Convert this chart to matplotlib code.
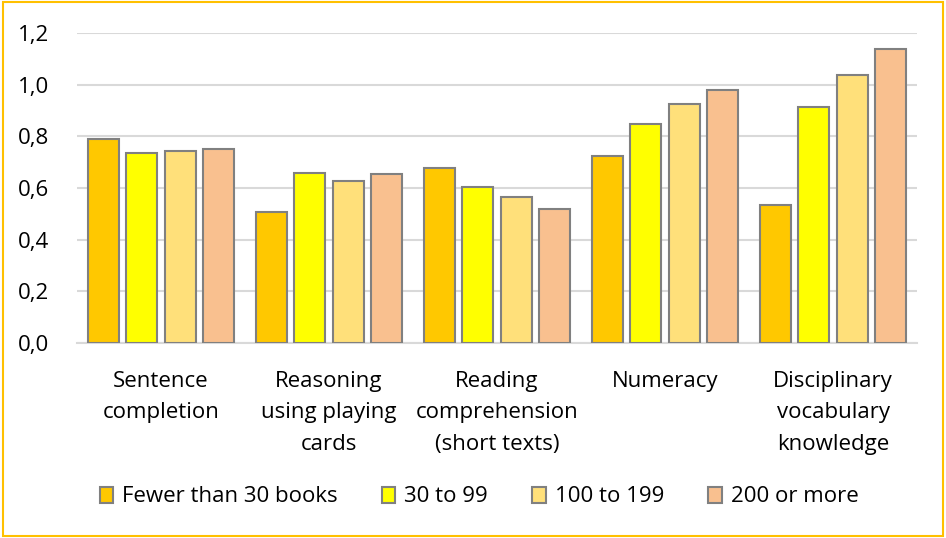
import matplotlib
matplotlib.use("Agg")
import matplotlib.pyplot as plt
import numpy as np
from matplotlib.ticker import FuncFormatter
from matplotlib.patches import Rectangle, Patch

categories = ["Sentence\ncompletion", "Reasoning\nusing playing\ncards",
              "Reading\ncomprehension\n(short texts)", "Numeracy",
              "Disciplinary\nvocabulary\nknowledge"]
series_names = ["Fewer than 30 books", "30 to 99", "100 to 199", "200 or more"]
fewer_than_30 = [0.79, 0.506, 0.676, 0.723, 0.533]
from_30_to_99 = [0.737, 0.658, 0.605, 0.849, 0.912]
from_100_to_199 = [0.745, 0.626, 0.566, 0.925, 1.037]
more_than_200 = [0.75, 0.653, 0.519, 0.981, 1.138]
yticks = [0.0, 0.2, 0.4, 0.6, 0.8, 1.0, 1.2]

colors = ["#FFC800", "#FFFF00", "#FFE07A", "#F9C08F"]
series = [fewer_than_30, from_30_to_99, from_100_to_199, more_than_200]

plt.rcParams['font.family'] = ['Open Sans', 'DejaVu Sans']

fig = plt.figure(figsize=(9.46, 5.38), dpi=100)
ax = fig.add_axes([77/946, 1-343/538, (917-77)/946, (343-33)/538])

x = np.arange(len(categories))
width = 0.185
pitch = 0.229
for i, (vals, c) in enumerate(zip(series, colors)):
    offs = (i - 1.5) * pitch
    ax.bar(x + offs, vals, width, color=c, edgecolor="#808080", linewidth=1.5,
           zorder=3, label=series_names[i])

ax.set_xlim(-0.5, len(categories) - 0.5)
ax.set_ylim(0, 1.2)
ax.set_yticks(yticks)
ax.yaxis.set_major_formatter(FuncFormatter(lambda v, p: f"{v:.1f}".replace(".", ",")))
ax.grid(axis="y", color="#D9D9D9", linewidth=1.5, zorder=0)
for s in ["top", "right", "left"]:
    ax.spines[s].set_visible(False)
ax.spines["bottom"].set_color("#D9D9D9")
ax.spines["bottom"].set_linewidth(1.5)
ax.tick_params(axis="both", length=0, labelsize=16, colors="black")
ax.tick_params(axis="y", pad=20)
ax.set_xticks(x)
ax.set_xticklabels(categories, linespacing=1.65)
ax.tick_params(axis="x", pad=20)

handles = [Patch(facecolor=c, edgecolor="#808080", linewidth=1.5) for c in colors]
fig.legend(handles, series_names, loc="center", bbox_to_anchor=(479/946, 1-497/538),
           ncol=4, frameon=False, fontsize=16, handlelength=0.6, handleheight=0.7,
           handletextpad=0.4, columnspacing=2.0)

fig.patches.append(Rectangle((0.003, 0.003), 0.994, 0.994, transform=fig.transFigure,
                             fill=False, edgecolor="#FFC000", linewidth=1.5))

fig.savefig("out.png", dpi=100)
